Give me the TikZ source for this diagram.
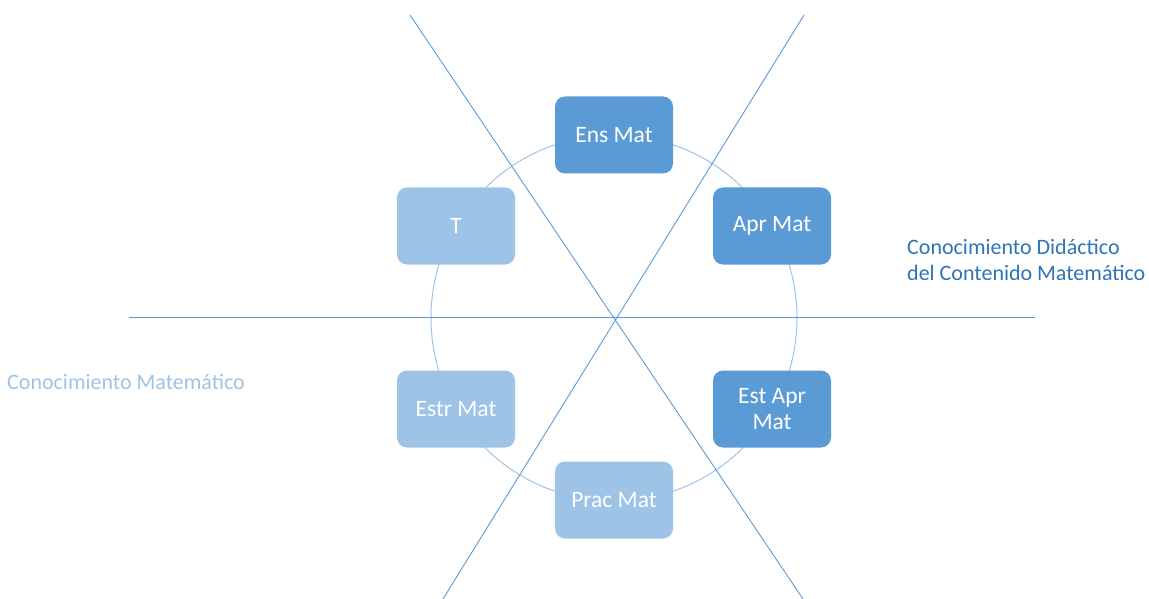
\documentclass[tikz,border=0pt]{standalone}
\usepackage{fontspec}
\setmainfont{Carlito}
\usetikzlibrary{positioning}
\definecolor{darkbox}{HTML}{5B9BD5}
\definecolor{lightbox}{HTML}{9DC3E6}
\definecolor{didtext}{HTML}{2E75B6}
\tikzset{
  area/.style   = {shape=rectangle, rounded corners=10pt,
                   minimum width=118pt, minimum height=77pt,
                   align=center, text=white,
                   font=\fontsize{23.5}{26}\selectfont},
  didact/.style = {area, fill=darkbox},
  mathbox/.style= {area, fill=lightbox},
  axis/.style   = {draw=darkbox, line width=0.9pt},
  ring/.style   = {draw=lightbox, line width=1pt},
  label/.style  = {font=\fontsize{22}{26}\selectfont, align=left, inner sep=0pt}
}

\begin{document}
\begin{tikzpicture}[x=1pt, y=-1pt]
  \useasboundingbox (0,0) rectangle (1149,599);
  % the ring behind the six boxes
  \coordinate (c) at (614,318);
  \draw[ring] (c) circle (183pt);
  % axes
  \coordinate (h1) at (129,317);
  \coordinate (h2) at (1035,317);
  \coordinate (d1) at (410,15);
  \coordinate (d2) at (803,599);
  \coordinate (e1) at (804,15);
  \coordinate (e2) at (443,599);
  \draw[axis] (h1) -- (h2);
  \draw[axis] (d1) -- (d2);
  \draw[axis] (e1) -- (e2);
  % boxes
  \node [didact] (ens) at (614,135) {Ens Mat};
  \node [didact] (apr) at (772,226) {Apr Mat};
  \node [didact] (est) at (772,409) {Est Apr\\Mat};
  \node [mathbox] (prac) at (614,500) {Prac Mat};
  \node [mathbox] (estr) at (456,409) {Estr Mat};
  \node [mathbox] (t) at (456,226) {T};
  % labels
  \node [label, text=didtext, anchor=west] (ccdm) at (907,260)
    {Conocimiento Didáctico\\del Contenido Matemático};
  \node [label, text=lightbox, anchor=west] (cm) at (7,382)
    {Conocimiento Matemático};
\end{tikzpicture}
\end{document}
